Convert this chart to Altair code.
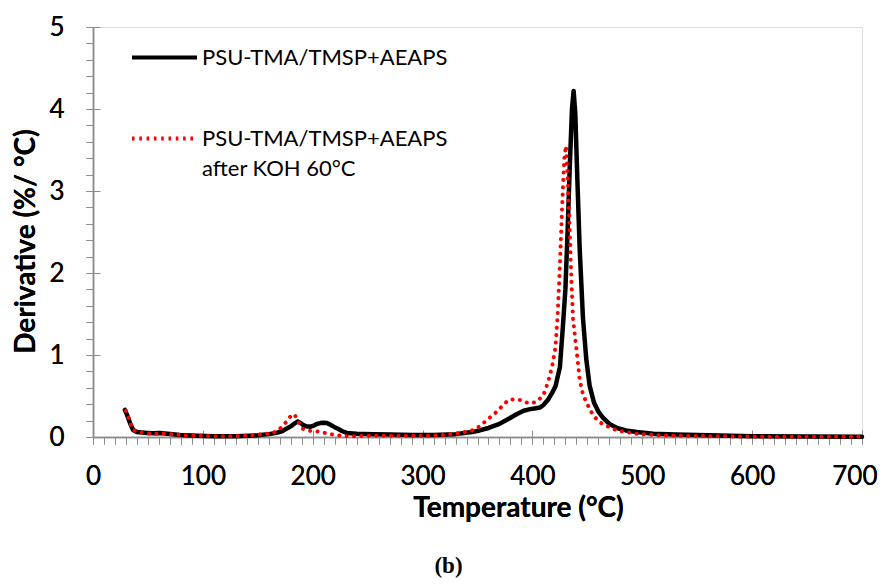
import altair as alt
import pandas as pd

S1 = "PSU-TMA/TMSP+AEAPS"
S2 = "PSU-TMA/TMSP+AEAPS|after KOH 60°C"

T_BLACK = [29, 31, 33.7, 36.5, 40, 49, 55, 61, 68, 79, 95, 110, 130, 150, 160, 167, 172, 176, 180,
           184, 186.5, 189, 191, 194, 197.5, 201, 204, 207, 210, 213, 216, 220, 223, 227, 231, 240,
           255, 270, 290, 310, 330, 345, 352, 360, 370, 378, 386, 392, 398, 403, 407, 410, 414, 418,
           421, 425, 428, 430, 432, 434, 436, 437.5, 439, 441, 443, 446, 449, 452, 456, 460, 464,
           470, 477, 485, 495, 510, 530, 560, 600, 650, 700]
D_BLACK = [0.33, 0.27, 0.17, 0.085, 0.06, 0.05, 0.045, 0.05, 0.04, 0.025, 0.015, 0.01, 0.008, 0.02,
           0.035, 0.05, 0.07, 0.1, 0.13, 0.17, 0.19, 0.17, 0.15, 0.13, 0.125, 0.14, 0.16, 0.17, 0.175,
           0.17, 0.15, 0.12, 0.1, 0.07, 0.05, 0.04, 0.035, 0.03, 0.025, 0.025, 0.035, 0.06, 0.08,
           0.11, 0.16, 0.22, 0.28, 0.32, 0.34, 0.35, 0.36, 0.39, 0.45, 0.54, 0.62, 0.85, 1.4, 1.8,
           2.5, 3.3, 4.0, 4.22, 3.95, 3.1, 2.3, 1.45, 0.95, 0.63, 0.42, 0.31, 0.24, 0.16, 0.11, 0.08,
           0.06, 0.04, 0.03, 0.02, 0.01, 0.005, 0.003]

T_RED = [30, 31.5, 33.7, 36, 41, 47, 53, 60, 65.5, 71, 80, 95, 110, 130, 145, 155, 164, 170, 175,
         179, 182, 184, 186, 188.5, 191, 197.5, 205, 211, 220, 229, 237, 249, 270, 300, 320, 335,
         345, 352, 358, 366, 372, 378, 384, 390, 395, 398, 404, 410, 414, 418, 421, 423, 425, 427,
         429, 430.5, 432, 434, 435.5, 437, 440.5, 443, 446, 449.5, 455, 461, 470, 477, 485, 495,
         510, 530, 560, 600, 650, 700]
D_RED = [0.32, 0.27, 0.18, 0.09, 0.06, 0.05, 0.04, 0.04, 0.045, 0.035, 0.025, 0.015, 0.01, 0.01,
         0.02, 0.035, 0.05, 0.1, 0.17, 0.24, 0.28, 0.26, 0.21, 0.15, 0.1, 0.075, 0.065, 0.05, 0.025,
         0.01, 0.008, 0.015, 0.015, 0.015, 0.025, 0.05, 0.08, 0.13, 0.2, 0.29, 0.37, 0.45, 0.46,
         0.45, 0.42, 0.41, 0.43, 0.51, 0.66, 0.86, 1.1, 1.5, 2.1, 2.8, 3.4, 3.55, 3.2, 2.5, 1.9,
         1.43, 1.02, 0.7, 0.52, 0.41, 0.27, 0.18, 0.12, 0.08, 0.06, 0.04, 0.025, 0.015, 0.01, 0.005,
         0.003, 0.002]

X_MAJOR = [0, 100, 200, 300, 400, 500, 600, 700]
X_MINOR = list(range(0, 701, 10))
Y_MAJOR = [0, 1, 2, 3, 4, 5]
Y_MINOR = [round(i * 0.2, 1) for i in range(26)]

df = pd.concat([
    pd.DataFrame({"T": T_BLACK, "D": D_BLACK, "series": S1}),
    pd.DataFrame({"T": T_RED, "D": D_RED, "series": S2}),
])

AX = "#8c8c8c"
FONT = "Lato"
domain = [S1, S2]

leg = alt.Legend(title=None, orient="none", legendX=37, legendY=-4, symbolType="stroke",
                 symbolSize=4225, labelFont=FONT, labelFontSize=22, labelColor="#000000",
                 labelExpr="split(datum.label, '|')", rowPadding=35, labelOffset=3,
                 labelLimit=500, padding=0, symbolStrokeWidth=4)

xs = alt.Scale(domain=[0, 700], nice=False, zero=False)
ys = alt.Scale(domain=[0, 5], nice=False)
cs = alt.Scale(domain=domain, range=["#000000", "#ff0000"])

base = alt.Chart(df)

x_main = alt.X("T:Q", scale=xs, axis=alt.Axis(
    values=X_MINOR, orient="bottom", labelExpr="datum.value % 100 == 0 ? datum.label : ''",
    tickSize=7, tickColor=AX, domainColor=AX, domainWidth=1.5, grid=False,
    labelFont=FONT, labelFontSize=26, labelColor="#000000", labelPadding=19,
    labelFlush=False, labelOverlap=False,
    labelAlign={"condition": {"test": "datum.value == 700", "value": "right"}, "value": "center"},
    labelOffset={"condition": {"test": "datum.value == 700", "value": 15}, "value": 0},
    title="Temperature (°C)", titleFont=FONT, titleFontSize=28, titleFontWeight="bold",
    titleColor="#000000", titlePadding=5, titleX=425))
y_main = alt.Y("D:Q", scale=ys, axis=alt.Axis(
    values=Y_MINOR, orient="left",
    labelExpr="datum.value % 1 == 0 ? format(datum.value, 'd') : ''",
    tickSize=7, tickColor=AX, domainColor=AX, domainWidth=1.5, grid=False,
    labelFont=FONT, labelFontSize=26, labelColor="#000000", labelPadding=22,
    labelFlush=False, labelOverlap=False,
    title="Derivative (%/ °C)", titleFont=FONT, titleFontSize=28, titleFontWeight="bold",
    titleColor="#000000", titlePadding=8, titleY=214))

black = base.transform_filter(alt.datum.series == S1).mark_line(
    color="#000000", strokeWidth=4.5, strokeCap="round", strokeJoin="round"
).encode(x=x_main, y=y_main)

red = base.transform_filter(alt.datum.series == S2).mark_line(
    color="#ff0000", strokeWidth=4, strokeCap="round", strokeJoin="round", strokeDash=[0.1, 7.3]
).encode(x=x_main, y=y_main)

# axis-only layer (major ticks pointing inward) that also carries the legend
inner = base.transform_filter("datum.T < 31").mark_line(strokeCap="butt").encode(
    x=alt.X("T:Q", scale=xs, axis=alt.Axis(values=X_MAJOR, orient="bottom", offset=-7, tickSize=7,
                                           tickColor=AX, domain=False, labels=False, title=None, grid=False)),
    y=alt.Y("D:Q", scale=ys, axis=alt.Axis(values=Y_MAJOR, orient="left", offset=-7, tickSize=7,
                                           tickColor=AX, domain=False, labels=False, title=None, grid=False)),
    color=alt.Color("series:N", scale=cs, legend=leg),
    strokeDash=alt.StrokeDash("series:N", scale=alt.Scale(domain=domain, range=[[1, 0], [2.6, 4.7]]), legend=leg),
)

chart = alt.layer(inner, black, red).resolve_axis(x="independent", y="independent").properties(
    width=769, height=410,
    autosize=alt.AutoSizeParams(type="none"),
    padding={"left": 85, "top": 19, "right": 16, "bottom": 143},
    title=alt.TitleParams(text="(b)", orient="bottom", font="Liberation Serif", fontSize=23,
                          fontWeight="bold", color="#000000", offset=33, dx=-29),
).configure_view(stroke="#d9d9d9", strokeWidth=1.5).configure(
    background="white", style={"guide-label": {"lineHeight": 30}})

chart.save("out.html", embed_options={"renderer": "svg", "actions": False})
